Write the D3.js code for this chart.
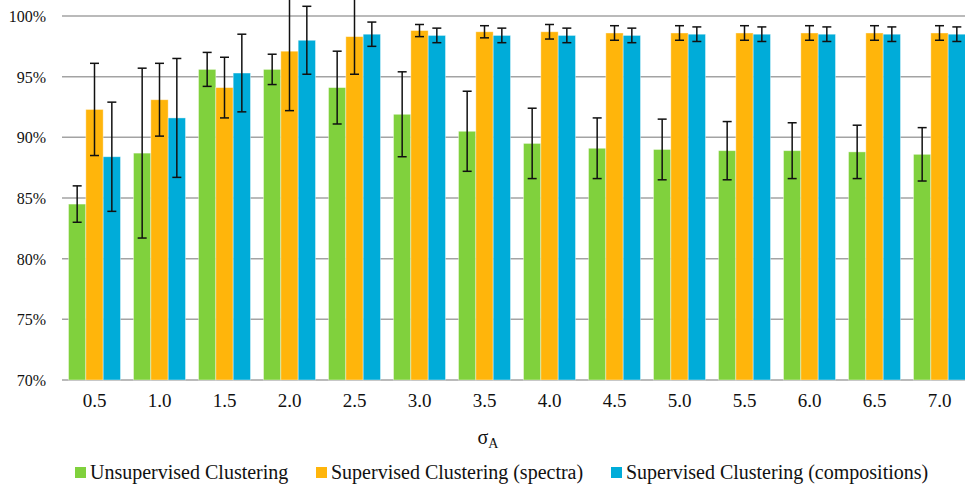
<!DOCTYPE html>
<html>
<head>
<meta charset="utf-8">
<script src="https://cdn.jsdelivr.net/npm/d3@7"></script>
<style>
  html, body { margin: 0; padding: 0; background: #fff; }
  svg { display: block; font-family: "Liberation Serif", "Times New Roman", serif; }
</style>
</head>
<body>
<svg id="chart" width="965" height="484"></svg>
<script>
// σ_A values along the x axis
const categories = ["0.5","1.0","1.5","2.0","2.5","3.0","3.5","4.0","4.5","5.0","5.5","6.0","6.5","7.0"];

// Clustering accuracy (%) per method
const unsupervised = [84.5, 88.7, 95.6, 95.6, 94.1, 91.9, 90.5, 89.5, 89.1, 89.0, 88.9, 88.9, 88.8, 88.6];
const supSpectra   = [92.3, 93.1, 94.1, 97.1, 98.3, 98.8, 98.7, 98.7, 98.6, 98.6, 98.6, 98.6, 98.6, 98.6];
const supComp      = [88.4, 91.6, 95.3, 98.0, 98.5, 98.4, 98.4, 98.4, 98.4, 98.5, 98.5, 98.5, 98.5, 98.5];

// Error-bar half widths (%)
const unsupervisedErr = [1.5, 7.0, 1.4, 1.25, 3.0, 3.5, 3.3, 2.9, 2.5, 2.5, 2.4, 2.3, 2.2, 2.2];
const supSpectraErr   = [3.8, 3.0, 2.5, 4.9, 3.1, 0.5, 0.5, 0.6, 0.6, 0.6, 0.6, 0.6, 0.6, 0.6];
const supCompErr      = [4.5, 4.9, 3.2, 2.8, 1.0, 0.6, 0.6, 0.6, 0.6, 0.6, 0.6, 0.6, 0.6, 0.6];

const seriesNames = ["Unsupervised Clustering", "Supervised Clustering (spectra)", "Supervised Clustering (compositions)"];
const seriesColors = ["#80d13d", "#ffb50b", "#00acd9"];
const yTicks = [70, 75, 80, 85, 90, 95, 100];

const series = [
  { name: seriesNames[0], values: unsupervised, errs: unsupervisedErr, color: seriesColors[0] },
  { name: seriesNames[1], values: supSpectra,   errs: supSpectraErr,   color: seriesColors[1] },
  { name: seriesNames[2], values: supComp,      errs: supCompErr,      color: seriesColors[2] }
];

const svg = d3.select("#chart");
const plotLeft = 62, plotTop = 16, plotBottom = 380, step = 65;
const plotRight = plotLeft + step * categories.length;

const x = d3.scaleBand().domain(categories).range([plotLeft, plotRight]).paddingInner(0.2).paddingOuter(0.1);
const xs = d3.scaleBand().domain(d3.range(series.length)).range([0, x.bandwidth()]);
const y = d3.scaleLinear().domain([70, 100]).range([plotBottom, plotTop]);

// Horizontal gridlines
svg.append("g")
  .selectAll("line").data(yTicks).join("line")
  .attr("x1", plotLeft).attr("x2", plotRight)
  .attr("y1", d => y(d)).attr("y2", d => y(d))
  .attr("stroke", "#a3a3a3").attr("stroke-width", 1.5);

// Y axis labels
const yAxis = d3.axisLeft(y).tickValues(yTicks).tickFormat(d => d + "%").tickSize(0).tickPadding(16);
svg.append("g").attr("transform", `translate(${plotLeft},0)`).call(yAxis)
  .call(g => g.select(".domain").remove())
  .call(g => g.selectAll("text").attr("font-size", 16).attr("fill", "#111")
    .attr("font-family", "Liberation Serif, serif").attr("dy", "0.35em"));

// Bars
const groups = svg.append("g").selectAll("g").data(series).join("g");
groups.selectAll("rect")
  .data((s, si) => s.values.map((v, i) => ({ si, i, v, color: s.color })))
  .join("rect")
  .attr("x", d => x(categories[d.i]) + xs(d.si))
  .attr("y", d => y(d.v))
  .attr("width", xs.bandwidth())
  .attr("height", d => y(70) - y(d.v))
  .attr("fill", d => d.color)
  .attr("stroke", "#ffffff").attr("stroke-opacity", 0.5).attr("stroke-width", 0.8);

// Error bars
const errG = svg.append("g").attr("stroke", "#111").attr("stroke-width", 1.5);
series.forEach((s, si) => {
  s.values.forEach((v, i) => {
    const cx = x(categories[i]) + xs(si) + xs.bandwidth() / 2;
    const hi = y(v + s.errs[i]), lo = y(v - s.errs[i]);
    errG.append("line").attr("x1", cx).attr("x2", cx).attr("y1", hi).attr("y2", lo);
    errG.append("line").attr("x1", cx - 4.5).attr("x2", cx + 4.5).attr("y1", hi).attr("y2", hi);
    errG.append("line").attr("x1", cx - 4.5).attr("x2", cx + 4.5).attr("y1", lo).attr("y2", lo);
  });
});

// X axis labels
const xAxis = d3.axisBottom(x).tickSize(0).tickPadding(14);
svg.append("g").attr("transform", `translate(0,${plotBottom})`).call(xAxis)
  .call(g => g.select(".domain").remove())
  .call(g => g.selectAll("text").attr("font-size", 19).attr("fill", "#111")
    .attr("font-family", "Liberation Serif, serif").attr("dy", "0.71em"));

// Axis title σ_A
const title = svg.append("text").attr("x", 488).attr("y", 444)
  .attr("text-anchor", "middle").attr("font-size", 20).attr("fill", "#111");
title.append("tspan").text("σ");
title.append("tspan").attr("font-size", 14).attr("dy", 4).text("A");

// Legend
const legendX = [75, 316, 611];
const legend = svg.append("g").selectAll("g").data(series).join("g")
  .attr("transform", (d, i) => `translate(${legendX[i]},467)`);
legend.append("rect").attr("width", 11).attr("height", 11).attr("fill", d => d.color);
legend.append("text").attr("x", 15).attr("y", 11.5).attr("font-size", 20).attr("fill", "#111")
  .text(d => d.name);
</script>
</body>
</html>
